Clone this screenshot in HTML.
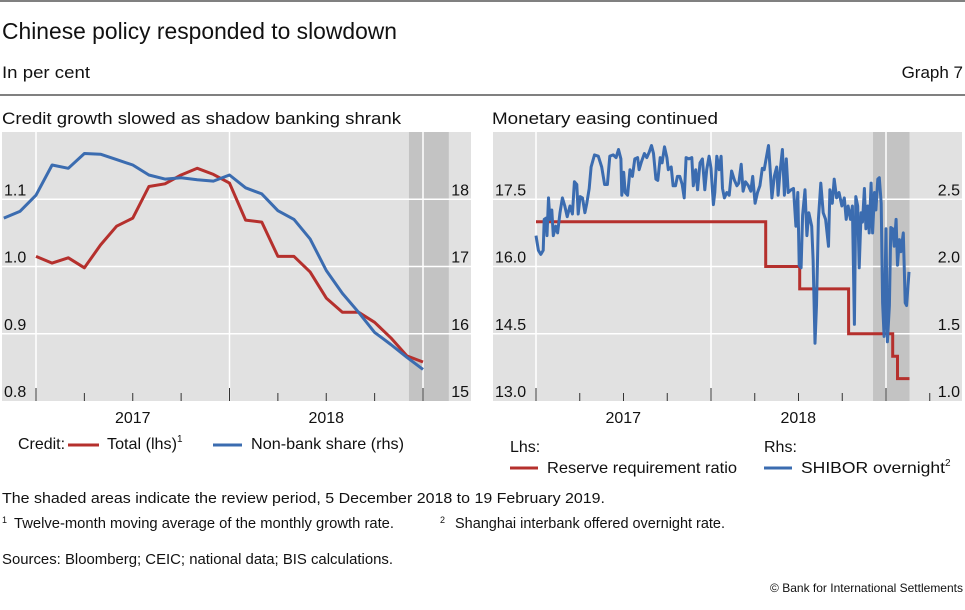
<!DOCTYPE html>
<html><head><meta charset="utf-8">
<style>
body{margin:0;background:#fff;font-family:"Liberation Sans",sans-serif;color:#111;}
svg text{font-family:"Liberation Sans",sans-serif;fill:#111;}
</style></head>
<body>
<svg id="chart" width="965" height="605" viewBox="0 0 965 605" xmlns="http://www.w3.org/2000/svg">
<line x1="0" y1="1" x2="965" y2="1" stroke="#000" stroke-width="1"/>
<text x="2" y="39" font-size="23" textLength="395" lengthAdjust="spacingAndGlyphs">Chinese policy responded to slowdown</text>
<text x="2" y="78" font-size="17" textLength="88" lengthAdjust="spacingAndGlyphs">In per cent</text>
<text x="963" y="78" font-size="17" text-anchor="end">Graph 7</text>
<line x1="0" y1="95" x2="965" y2="95" stroke="#000" stroke-width="1"/>
<text x="2" y="124" font-size="17" textLength="399" lengthAdjust="spacingAndGlyphs">Credit growth slowed as shadow banking shrank</text>
<text x="492" y="124" font-size="17" textLength="226" lengthAdjust="spacingAndGlyphs">Monetary easing continued</text>
<g id="left"></g>
<g id="right"></g>
<!-- legends -->
<text x="18" y="449" font-size="16" textLength="47" lengthAdjust="spacingAndGlyphs">Credit:</text>
<line x1="68" y1="445" x2="99" y2="445" stroke="#b5302d" stroke-width="3"/>
<text x="107" y="449" font-size="16"><tspan textLength="70" lengthAdjust="spacingAndGlyphs">Total (lhs)</tspan><tspan font-size="10" dy="-7">1</tspan></text>
<line x1="213" y1="445" x2="242" y2="445" stroke="#3b6cb0" stroke-width="3"/>
<text x="251" y="449" font-size="16" textLength="153" lengthAdjust="spacingAndGlyphs">Non-bank share (rhs)</text>
<text x="510" y="452" font-size="16">Lhs:</text>
<line x1="510" y1="468" x2="538" y2="468" stroke="#b5302d" stroke-width="3"/>
<text x="547" y="473" font-size="16" textLength="190" lengthAdjust="spacingAndGlyphs">Reserve requirement ratio</text>
<text x="764" y="452" font-size="16">Rhs:</text>
<line x1="764" y1="468" x2="792" y2="468" stroke="#3b6cb0" stroke-width="3"/>
<text x="801" y="473" font-size="16"><tspan textLength="144" lengthAdjust="spacingAndGlyphs">SHIBOR overnight</tspan><tspan font-size="10" dy="-7">2</tspan></text>
<text x="2" y="503" font-size="15" textLength="603" lengthAdjust="spacingAndGlyphs">The shaded areas indicate the review period, 5 December 2018 to 19 February 2019.</text>
<text x="2" y="528" font-size="15"><tspan font-size="9" dy="-5">1</tspan><tspan x="14" dy="5" textLength="380" lengthAdjust="spacingAndGlyphs">Twelve-month moving average of the monthly growth rate.</tspan></text>
<text x="440" y="528" font-size="15"><tspan font-size="9" dy="-5">2</tspan><tspan x="455" dy="5" textLength="270" lengthAdjust="spacingAndGlyphs">Shanghai interbank offered overnight rate.</tspan></text>
<text x="2" y="564" font-size="15" textLength="391" lengthAdjust="spacingAndGlyphs">Sources: Bloomberg; CEIC; national data; BIS calculations.</text>
<text x="963" y="592" font-size="12" text-anchor="end">© Bank for International Settlements</text>
</svg>
<script>
// ---- Left panel data (months since Jan 2017) ----
var totalStartMonth = 0;
var totalValues = [1.015,1.005,1.013,0.998,1.032,1.060,1.072,1.119,1.123,1.136,1.146,1.137,1.124,1.069,1.066,1.015,1.015,0.992,0.953,0.932,0.932,0.917,0.894,0.867,0.858];
var nonbankStartMonth = -2;
var nonbankValues = [17.72,17.82,18.06,18.51,18.46,18.68,18.67,18.59,18.51,18.36,18.30,18.32,18.29,18.27,18.36,18.17,18.08,17.83,17.70,17.41,16.94,16.60,16.32,16.02,15.84,15.65,15.47];
var leftTicksL = ["0.8","0.9","1.0","1.1"];
var leftTicksR = ["15","16","17","18"];
var leftYears = ["2017","2018"];
// ---- Right panel data (days since 1 Jan 2017) ----
var rrrDays = [0,479,550,652,744,754,779];
var rrrValues = [17,16,15.5,14.5,14,13.5,13.5];
var shiborDays = [0,5,10,15,17,21,23,26,29,33,36,41,45,50,55,60,65,71,76,80,85,88,92,97,102,106,111,115,122,130,137,143,149,154,161,167,172,177,179,183,186,191,196,201,206,212,215,220,226,231,236,241,245,250,254,259,263,268,273,276,282,286,291,295,300,305,309,313,319,325,328,333,337,342,347,352,356,361,365,370,373,377,382,386,389,393,398,403,408,414,419,423,428,432,437,443,448,452,457,462,467,472,476,481,485,488,492,497,502,505,509,514,518,522,526,532,537,542,546,549,553,556,561,565,569,575,578,582,585,589,594,599,604,610,613,618,622,627,632,638,643,647,651,656,660,664,667,671,674,678,681,685,688,692,695,699,702,706,709,713,716,720,723,726,730,733,737,740,744,747,751,754,758,761,766,770,773,778];
var shiborValues = [2.23,2.12,2.09,2.12,2.35,2.36,2.23,2.51,2.35,2.42,2.23,2.30,2.25,2.40,2.51,2.45,2.37,2.45,2.39,2.63,2.61,2.39,2.52,2.51,2.40,2.47,2.58,2.74,2.83,2.82,2.74,2.61,2.61,2.82,2.83,2.81,2.87,2.80,2.53,2.70,2.55,2.53,2.72,2.67,2.80,2.81,2.72,2.78,2.84,2.81,2.85,2.90,2.84,2.65,2.64,2.81,2.77,2.89,2.81,2.72,2.74,2.60,2.60,2.67,2.67,2.61,2.51,2.81,2.80,2.81,2.60,2.72,2.57,2.77,2.80,2.57,2.72,2.82,2.73,2.46,2.55,2.82,2.72,2.82,2.58,2.51,2.55,2.53,2.71,2.64,2.60,2.62,2.76,2.56,2.63,2.60,2.56,2.67,2.47,2.55,2.60,2.73,2.72,2.82,2.90,2.74,2.51,2.67,2.74,2.53,2.70,2.87,2.53,2.80,2.55,2.57,2.58,2.30,2.55,2.01,1.99,2.38,2.57,2.23,2.40,2.30,2.05,1.43,1.71,2.35,2.62,2.40,2.35,2.15,2.57,2.47,2.65,2.51,2.55,2.45,2.51,2.35,2.45,2.35,2.45,1.57,2.52,2.45,1.99,2.40,2.33,2.58,2.28,2.45,2.25,2.62,2.25,2.55,2.42,2.65,2.66,2.47,1.73,1.48,2.28,1.44,1.71,2.29,2.28,2.15,2.35,2.01,2.20,2.11,2.25,1.73,1.71,1.96];
var rightTicksL = ["13.0","14.5","16.0","17.5"];
var rightTicksR = ["1.0","1.5","2.0","2.5"];
var rightYears = ["2017","2018"];

var NS="http://www.w3.org/2000/svg";
function mk(parent,tag,attrs){var e=document.createElementNS(NS,tag);for(var k in attrs)e.setAttribute(k,attrs[k]);parent.appendChild(e);return e;}
var TOP=132,BOT=401;

// ---------- LEFT ----------
(function(){
var g=document.getElementById('left');
var X0=2,X1=471;
function xm(m){return 36+m*16.125;}
function yl(v){return BOT-(v-0.8)/0.1*67.25;}
function yr(v){return BOT-(v-15)*67.25;}
var bg=mk(g,'rect',{x:X0,y:TOP,width:X1-X0,height:BOT-TOP,fill:'#e1e1e1'});


var sh=mk(g,'rect',{x:xm(23.13),y:TOP,width:xm(25.6)-xm(23.13),height:BOT-TOP,fill:'#c3c3c3'});


for(var i=1;i<leftTicksL.length;i++){
  var v=parseFloat(leftTicksL[i]);
  var gl=mk(g,'line',{x1:X0,x2:X1,y1:yl(v),y2:yl(v),stroke:'#fff','stroke-width':1.5});
  
  
}
[0,12,24].forEach(function(m){
  var vl=mk(g,'line',{x1:xm(m),x2:xm(m),y1:TOP,y2:BOT,stroke:'#fff','stroke-width':1.5});
  
  
});
for(var m=0;m<=24;m+=3){
  var major=(m%12===0);
  var t=mk(g,'line',{x1:xm(m),x2:xm(m),y1:major?388:393,y2:BOT,stroke:'#333','stroke-width':1});
  
  
}
leftTicksL.forEach(function(s){
  var t=mk(g,'text',{x:4,y:yl(parseFloat(s))-4,'font-size':16});t.textContent=s;
  
  
});
leftTicksR.forEach(function(s){
  var t=mk(g,'text',{x:469,y:yr(parseFloat(s))-4,'font-size':16,'text-anchor':'end'});t.textContent=s;
  
  
});
leftYears.forEach(function(s,i){
  var t=mk(g,'text',{x:xm(6+12*i),y:423,'font-size':16,'text-anchor':'middle'});t.textContent=s;
  
  
});
var p1=totalValues.map(function(v,i){return xm(totalStartMonth+i).toFixed(1)+','+yl(v).toFixed(1);}).join(' ');
var l1=mk(g,'polyline',{points:p1,fill:'none',stroke:'#b5302d','stroke-width':3,'stroke-linejoin':'round'});


var p2=nonbankValues.map(function(v,i){return xm(nonbankStartMonth+i).toFixed(1)+','+yr(v).toFixed(1);}).join(' ');
var l2=mk(g,'polyline',{points:p2,fill:'none',stroke:'#3b6cb0','stroke-width':3,'stroke-linejoin':'round'});


})();

// ---------- RIGHT ----------
(function(){
var g=document.getElementById('right');
var X0=493,X1=962,PD=175/365;
function xd(d){return 536+d*PD;}
function yl(v){return BOT-(v-13)/1.5*67.25;}
function yr(v){return BOT-(v-1)/0.5*67.25;}
var bg=mk(g,'rect',{x:X0,y:TOP,width:X1-X0,height:BOT-TOP,fill:'#e1e1e1'});


var sh=mk(g,'rect',{x:xd(703),y:TOP,width:xd(779)-xd(703),height:BOT-TOP,fill:'#c3c3c3'});


for(var i=1;i<rightTicksL.length;i++){
  var v=parseFloat(rightTicksL[i]);
  var gl=mk(g,'line',{x1:X0,x2:X1,y1:yl(v),y2:yl(v),stroke:'#fff','stroke-width':1.5});
  
  
}
[0,365,730].forEach(function(d){
  var vl=mk(g,'line',{x1:xd(d),x2:xd(d),y1:TOP,y2:BOT,stroke:'#fff','stroke-width':1.5});
  
  
});
for(var q=0;q<=9;q++){
  var major=(q%4===0);
  var t=mk(g,'line',{x1:xd(q*91.25),x2:xd(q*91.25),y1:major?388:393,y2:BOT,stroke:'#333','stroke-width':1});
  
  
}
rightTicksL.forEach(function(s){
  var t=mk(g,'text',{x:495,y:yl(parseFloat(s))-4,'font-size':16});t.textContent=s;
  
  
});
rightTicksR.forEach(function(s){
  var t=mk(g,'text',{x:960,y:yr(parseFloat(s))-4,'font-size':16,'text-anchor':'end'});t.textContent=s;
  
  
});
rightYears.forEach(function(s,i){
  var t=mk(g,'text',{x:xd(182+365*i),y:423,'font-size':16,'text-anchor':'middle'});t.textContent=s;
  
  
});
var pts=[];
for(var i=0;i<rrrDays.length;i++){
  if(i>0)pts.push(xd(rrrDays[i]).toFixed(1)+','+yl(rrrValues[i-1]).toFixed(1));
  pts.push(xd(rrrDays[i]).toFixed(1)+','+yl(rrrValues[i]).toFixed(1));
}
var l1=mk(g,'polyline',{points:pts.join(' '),fill:'none',stroke:'#b5302d','stroke-width':3});


var p2=shiborValues.map(function(v,i){return xd(shiborDays[i]).toFixed(1)+','+yr(v).toFixed(1);}).join(' ');
var l2=mk(g,'polyline',{points:p2,fill:'none',stroke:'#3b6cb0','stroke-width':3,'stroke-linejoin':'round'});


})();
</script>
</body></html>
